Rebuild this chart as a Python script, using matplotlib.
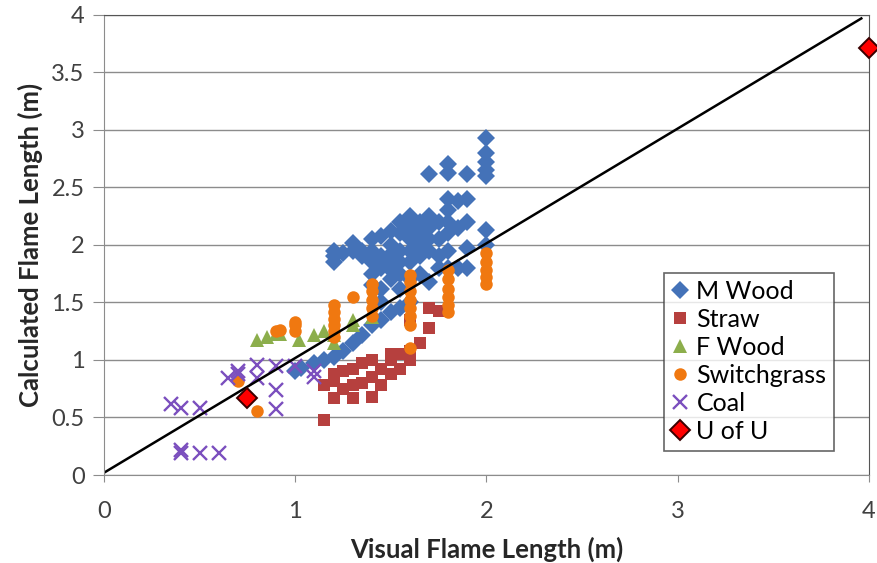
import matplotlib
matplotlib.use('Agg')
import matplotlib.pyplot as plt

# values
mwood_x = [1.0, 1.03, 1.1, 1.15, 1.2, 1.25, 1.3, 1.35, 1.4, 1.45, 1.5, 1.55, 1.6,
           1.2, 1.2, 1.2, 1.25, 1.3, 1.3, 1.35, 1.35,
           1.4, 1.4, 1.4, 1.4, 1.4,
           1.45, 1.45, 1.45, 1.45, 1.45,
           1.5, 1.5, 1.5, 1.5, 1.5, 1.5,
           1.55, 1.55, 1.55, 1.55, 1.55, 1.55,
           1.6, 1.6, 1.6, 1.6, 1.6, 1.6,
           1.65, 1.65, 1.65, 1.65, 1.65,
           1.7, 1.7, 1.7, 1.7, 1.7, 1.7,
           1.75, 1.75, 1.75, 1.75,
           1.8, 1.8, 1.8, 1.8, 1.8, 1.8, 1.8, 1.8,
           1.85, 1.85, 1.85,
           1.9, 1.9, 1.9, 1.9, 1.9,
           2.0, 2.0, 2.0, 2.0, 2.0, 2.0, 2.0]
mwood_y = [0.9, 0.93, 0.97, 1.0, 1.03, 1.08, 1.15, 1.22, 1.3, 1.35, 1.42, 1.45, 1.5,
           1.85, 1.9, 1.95, 1.93, 1.95, 2.02, 1.9, 1.95,
           1.65, 1.75, 1.85, 1.95, 2.05,
           1.5, 1.62, 1.8, 1.9, 2.08,
           1.7, 1.78, 1.85, 1.92, 2.0, 2.12,
           1.62, 1.75, 1.85, 1.95, 2.1, 2.2,
           1.7, 1.85, 1.95, 2.05, 2.15, 2.25,
           1.75, 1.9, 2.0, 2.1, 2.2,
           1.68, 1.95, 2.05, 2.15, 2.25, 2.62,
           1.8, 1.9, 2.05, 2.2,
           1.8, 1.95, 2.1, 2.2, 2.3, 2.4, 2.63, 2.7,
           1.8, 2.15, 2.38,
           1.8, 1.97, 2.2, 2.4, 2.62,
           2.0, 2.13, 2.6, 2.65, 2.72, 2.8, 2.93]

straw_x = [1.15, 1.15, 1.2, 1.2, 1.2, 1.25, 1.25, 1.3, 1.3, 1.3, 1.35, 1.35,
           1.4, 1.4, 1.4, 1.45, 1.45, 1.5, 1.5, 1.5, 1.55, 1.55,
           1.6, 1.6, 1.6, 1.65, 1.7, 1.7, 1.75]
straw_y = [0.48, 0.78, 0.67, 0.82, 0.88, 0.75, 0.9, 0.67, 0.78, 0.92, 0.8, 0.97,
           0.68, 0.85, 1.0, 0.78, 0.92, 0.88, 1.0, 1.05, 0.92, 1.05,
           1.0, 1.08, 1.35, 1.15, 1.28, 1.45, 1.43]

fwood_x = [0.8, 0.85, 0.9, 0.92, 1.02, 1.1, 1.15, 1.2, 1.2, 1.3, 1.3, 1.4]
fwood_y = [1.17, 1.2, 1.23, 1.23, 1.17, 1.22, 1.25, 1.15, 1.22, 1.35, 1.3, 1.37]

switch_x = [0.7, 0.8, 0.9, 0.92, 1.0, 1.0, 1.0,
            1.2, 1.2, 1.2, 1.2, 1.2, 1.2, 1.3,
            1.4, 1.4, 1.4, 1.4, 1.4,
            1.6, 1.6, 1.6, 1.6, 1.6, 1.6, 1.6, 1.6,
            1.8, 1.8, 1.8, 1.8, 1.8, 1.8,
            2.0, 2.0, 2.0, 2.0, 2.0]
switch_y = [0.82, 0.56, 1.25, 1.26, 1.25, 1.3, 1.33,
            1.2, 1.25, 1.3, 1.36, 1.42, 1.48, 1.55,
            1.38, 1.45, 1.52, 1.6, 1.66,
            1.1, 1.3, 1.38, 1.45, 1.52, 1.6, 1.68, 1.74,
            1.42, 1.48, 1.55, 1.62, 1.7, 1.78,
            1.66, 1.72, 1.78, 1.85, 1.93]

coal_x = [0.35, 0.4, 0.5, 0.4, 0.4, 0.5, 0.6, 0.65, 0.7, 0.7, 0.8, 0.8,
          0.9, 0.9, 0.9, 1.0, 1.1, 1.1]
coal_y = [0.62, 0.58, 0.58, 0.22, 0.19, 0.19, 0.19, 0.84, 0.9, 0.88, 0.96, 0.84,
          0.95, 0.74, 0.57, 0.95, 0.9, 0.85]

uofu_x = [0.75, 4.0]
uofu_y = [0.67, 3.71]

# 1:1 reference line
line_x = [0.0, 3.96]
line_y = [0.02, 3.97]

plt.rcParams['font.family'] = ['Lato', 'DejaVu Sans']

fig = plt.figure(figsize=(8.78, 5.63), dpi=100)
ax = fig.add_axes([0.1185, 0.1563, 0.8712, 0.8171])

ax.plot(mwood_x, mwood_y, 'D', color='#4472B8', ms=9.5, mew=0, label='M Wood')
ax.plot(straw_x, straw_y, 's', color='#B6403E', ms=8.5, mew=0, label='Straw')
ax.plot(fwood_x, fwood_y, '^', color='#8CAE4C', ms=10, mew=0, label='F Wood')
ax.plot(switch_x, switch_y, 'o', color='#F07810', ms=9, mew=0, label='Switchgrass')
ax.plot(coal_x, coal_y, 'x', color='#7B4FBE', ms=10, mew=1.7, label='Coal')
ax.plot(line_x, line_y, '-', color='black', lw=1.8, label='_nolegend_')
ax.plot(uofu_x, uofu_y, 'D', mfc='#FF0000', mec='#3A0000', ms=10.5, mew=1.4,
        label='U of U', clip_on=False, zorder=5)

ax.set_xlim(0, 4)
ax.set_ylim(0, 4)
ax.set_xticks([0, 1, 2, 3, 4])
ax.set_yticks([0, 0.5, 1, 1.5, 2, 2.5, 3, 3.5, 4])
ax.set_yticklabels(['0', '0.5', '1', '1.5', '2', '2.5', '3', '3.5', '4'])
ax.grid(axis='y', color='#8C8C8C', lw=1)
ax.set_axisbelow(True)

for s in ['left', 'bottom']:
    ax.spines[s].set_color('#8C8C8C')
for s in ['top', 'right']:
    ax.spines[s].set_color('#555555')
ax.tick_params(axis='y', length=8, color='#8C8C8C', labelsize=17, pad=6, labelcolor='#404040')
ax.tick_params(axis='x', length=5, color='#8C8C8C', labelsize=17, pad=14, labelcolor='#404040')

ax.set_xlabel('Visual Flame Length (m)', fontsize=18.5, fontweight='bold', color='#262626', labelpad=10)
ax.set_ylabel('Calculated Flame Length (m)', fontsize=18.5, fontweight='bold', color='#262626', labelpad=6)

leg = ax.legend(loc='upper left', bbox_to_anchor=(0.732, 0.44), fontsize=18,
                frameon=True, fancybox=False, handlelength=0.7, handletextpad=0.3,
                borderpad=0.3, labelspacing=0.2, borderaxespad=0)
leg.get_frame().set_edgecolor('#404040')
leg.get_frame().set_linewidth(1.2)

fig.savefig('out.png', dpi=100)
